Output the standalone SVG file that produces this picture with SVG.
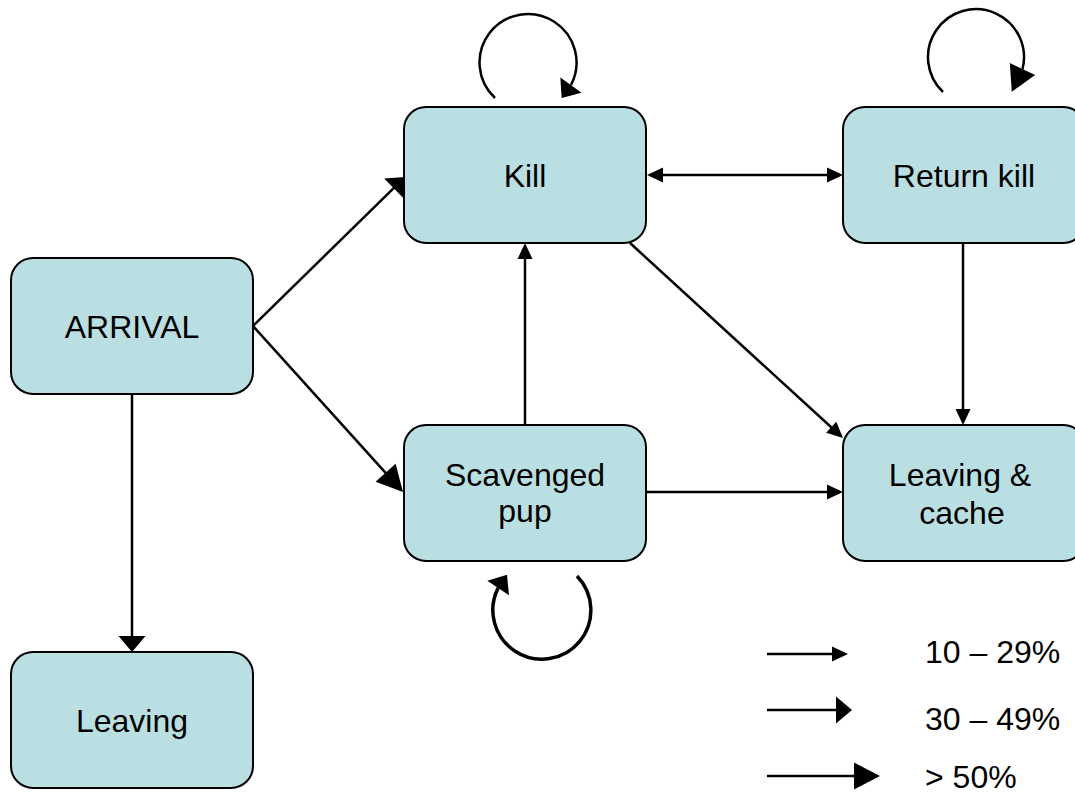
<svg xmlns="http://www.w3.org/2000/svg" width="1075" height="794" viewBox="0 0 1075 794">
<style>
.box{fill:#BADFE2;stroke:#000;stroke-width:2}
.lbl{font-family:"Liberation Sans",Arial,sans-serif;font-size:32px;fill:#000;text-anchor:middle}
.leg{font-family:"Liberation Sans",Arial,sans-serif;font-size:32px;fill:#000}
.edge{fill:none;stroke:#000;stroke-width:2.5}
</style>
<defs>
<marker id="arrS" markerUnits="userSpaceOnUse" markerWidth="16" markerHeight="15" viewBox="0 0 16 15" refX="13" refY="7.5" orient="auto-start-reverse" overflow="visible"><path d="M0,0 L16,7.5 L0,15 z" fill="#000"/></marker>
<marker id="arrM" markerUnits="userSpaceOnUse" markerWidth="16" markerHeight="27" viewBox="0 0 16 27" refX="13" refY="13.5" orient="auto-start-reverse" overflow="visible"><path d="M0,0 L16,13.5 L0,27 z" fill="#000"/></marker>
<marker id="arrL" markerUnits="userSpaceOnUse" markerWidth="26" markerHeight="27" viewBox="0 0 26 27" refX="23" refY="13.5" orient="auto-start-reverse" overflow="visible"><path d="M0,0 L26,13.5 L0,27 z" fill="#000"/></marker>
<marker id="arrMb" markerUnits="userSpaceOnUse" markerWidth="16" markerHeight="26" viewBox="0 0 16 26" refX="0" refY="13" orient="auto" overflow="visible"><path d="M0,0 L16,13 L0,26 z" fill="#000"/></marker>
<marker id="arrLb" markerUnits="userSpaceOnUse" markerWidth="25" markerHeight="28" viewBox="0 0 25 28" refX="0" refY="14" orient="auto" overflow="visible"><path d="M0,0 L25,14 L0,28 z" fill="#000"/></marker>
</defs>
<g id="connectors">
<path class="edge" d="M253,326 L402.9,179.1" marker-end="url(#arrM)"/>
<path class="edge" d="M253,326 L401,489.8" marker-end="url(#arrL)"/>
<path class="edge" d="M132,394 L132,649" marker-end="url(#arrM)"/>
<path class="edge" d="M650,175 L840,175" marker-start="url(#arrS)" marker-end="url(#arrS)"/>
<path class="edge" d="M630,243 L840.8,436" marker-end="url(#arrS)"/>
<path class="edge" d="M963,243 L963,422" marker-end="url(#arrS)"/>
<path class="edge" d="M646,492 L840,492" marker-end="url(#arrS)"/>
<path class="edge" d="M525,425 L525,246" marker-end="url(#arrS)"/>
<path class="edge" d="M495,98 A48.5,48.5 0 1 1 571,85 l-0.058,0.081" marker-end="url(#arrMb)"/>
<path class="edge" d="M943,92 A48,48 0 1 1 1022.5,69 l-0.043,0.091" marker-end="url(#arrLb)"/>
<path class="edge" style="stroke-width:3.5" d="M577,576 A49,49 0 1 1 498.1,588.1 l0.055,-0.083" marker-end="url(#arrMb)"/>
</g>
<g id="arrival"><rect class="box" x="11" y="258" width="242" height="136" rx="22"/><text class="lbl" x="132" y="338">ARRIVAL</text></g>
<g id="kill"><rect class="box" x="404" y="107" width="242" height="136" rx="22"/><text class="lbl" x="525" y="187">Kill</text></g>
<g id="return-kill"><rect class="box" x="843" y="107" width="242" height="136" rx="22"/><text class="lbl" x="964" y="187">Return kill</text></g>
<g id="scavenged-pup"><rect class="box" x="404" y="425" width="242" height="136" rx="22"/><text class="lbl" x="525" y="486">Scavenged</text><text class="lbl" x="525" y="522">pup</text></g>
<g id="leaving-cache"><rect class="box" x="843" y="425" width="242" height="136" rx="22"/><text class="lbl" x="960" y="486">Leaving &amp;</text><text class="lbl" x="962" y="524">cache</text></g>
<g id="leaving"><rect class="box" x="11" y="652" width="242" height="136" rx="22"/><text class="lbl" x="132" y="732">Leaving</text></g>
<g id="legend">
<path class="edge" d="M767,654 L845,654" marker-end="url(#arrS)"/>
<path class="edge" d="M767,710 L849,710" marker-end="url(#arrM)"/>
<path class="edge" d="M767,776 L877,776" marker-end="url(#arrL)"/>
<text class="leg" x="925" y="663">10 – 29%</text>
<text class="leg" x="925" y="730">30 – 49%</text>
<text class="leg" x="925" y="788">&gt; 50%</text>
</g>
</svg>
